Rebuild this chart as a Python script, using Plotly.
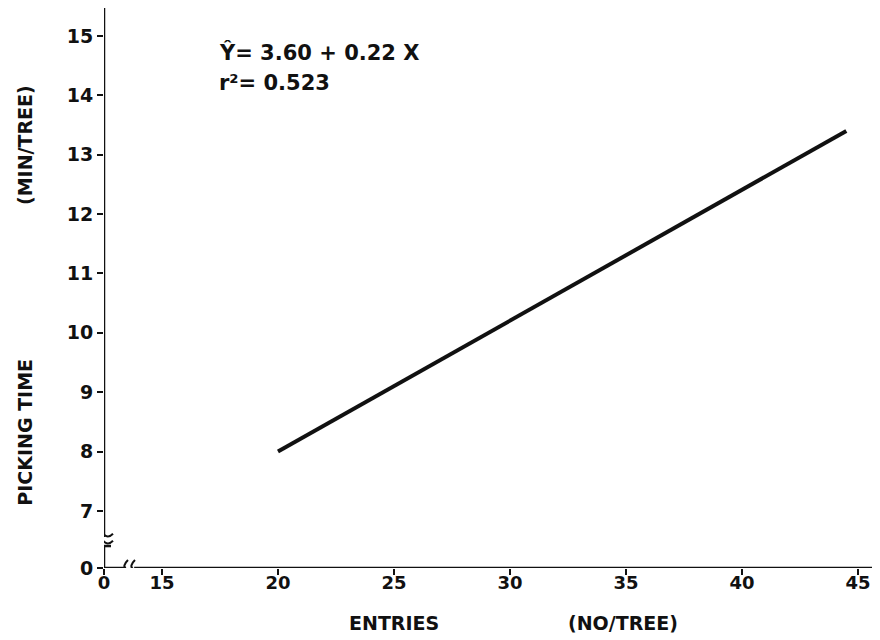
import plotly.graph_objects as go

# ---- data ----
entries = [20, 44.5]            # x (no/tree)
picking_time = [8.0, 13.4]      # y (min/tree)

x_tick_vals = [12.5, 15, 20, 25, 30, 35, 40, 45]
x_tick_text = ["0", "15", "20", "25", "30", "35", "40", "45"]
y_tick_vals = [6.04, 7, 8, 9, 10, 11, 12, 13, 14, 15]
y_tick_text = ["0", "7", "8", "9", "10", "11", "12", "13", "14", "15"]

X_MIN, X_MAX = 12.5, 45.65
Y_MIN, Y_MAX = 6.04, 15.47
Y_BREAK, X_BREAK = 6.5, 13.62

FONT = "DejaVu Sans"
BLACK = "#111111"

fig = go.Figure()
fig.add_trace(go.Scatter(x=entries, y=picking_time, mode="lines",
                         line=dict(color=BLACK, width=4), showlegend=False,
                         hoverinfo="skip"))

shapes = []
lw = 2.5
# y axis (upper part above break)
shapes.append(dict(type="line", xref="x", yref="y", x0=X_MIN, x1=X_MIN, y0=6.56, y1=Y_MAX,
                   line=dict(color=BLACK, width=lw)))
# y axis lower stub with cap
shapes.append(dict(type="line", xref="x", yref="y", x0=X_MIN, x1=X_MIN, y0=Y_MIN, y1=6.41,
                   line=dict(color=BLACK, width=lw)))
shapes.append(dict(type="line", xref="x", yref="y", xsizemode="pixel", xanchor=X_MIN,
                   x0=-7, x1=7, y0=6.41, y1=6.41, line=dict(color=BLACK, width=lw)))
# y break wavy marks (pixel-sized)
for dy in (6, -1):
    shapes.append(dict(type="path", xref="x", yref="y", xsizemode="pixel", ysizemode="pixel",
                       xanchor=X_MIN, yanchor=Y_BREAK,
                       path=f"M -9,{dy-1} Q -4,{dy+4} 0,{dy} Q 4,{dy-4} 9,{dy+1}",
                       line=dict(color=BLACK, width=2)))
# x axis left stub
shapes.append(dict(type="line", xref="x", yref="y", x0=X_MIN, x1=13.45, y0=Y_MIN, y1=Y_MIN,
                   line=dict(color=BLACK, width=lw)))
# x axis main
shapes.append(dict(type="line", xref="x", yref="y", x0=13.8, x1=X_MAX, y0=Y_MIN, y1=Y_MIN,
                   line=dict(color=BLACK, width=lw)))
# x break marks
for dx in (-4, 3):
    shapes.append(dict(type="path", xref="x", yref="y", xsizemode="pixel", ysizemode="pixel",
                       xanchor=X_BREAK, yanchor=Y_MIN,
                       path=f"M {dx+2},8 Q {dx-4},2 {dx},-1 Q {dx+3},-4 {dx-1},-8",
                       line=dict(color=BLACK, width=2)))

def ann(text, x, y, angle=0, xanchor="center", size=19):
    return dict(text=text, xref="paper", yref="paper", x=x, y=y, textangle=angle,
                xanchor=xanchor, yanchor="middle", showarrow=False,
                font=dict(family=FONT, size=size, color=BLACK, weight="bold"))

annotations = [
    ann("PICKING TIME", -0.103, 0.243, angle=-90),
    ann("(MIN/TREE)", -0.103, 0.755, angle=-90),
    ann("ENTRIES", 0.377, -0.098),
    ann("(NO/TREE)", 0.675, -0.098),
    ann("Ŷ= 3.60 + 0.22 X", 0.147, 0.92, xanchor="left", size=21),
    ann("r²= 0.523", 0.147, 0.866, xanchor="left", size=21),
]

# page body has an 8px margin, so the figure is sized to fit the 880x640 window
fig.update_layout(
    width=872, height=632,
    margin=dict(l=96, r=7, t=0, b=72, autoexpand=False),
    paper_bgcolor="white", plot_bgcolor="white",
    shapes=shapes, annotations=annotations,
    font=dict(family=FONT, color=BLACK),
)
fig.update_xaxes(range=[X_MIN, X_MAX], tickvals=x_tick_vals, ticktext=x_tick_text,
                 showgrid=False, zeroline=False, showline=False, automargin=False,
                 ticks="outside", ticklen=6, tickwidth=2, tickcolor=BLACK,
                 ticklabelstandoff=-8,
                 tickfont=dict(family=FONT, size=18, color=BLACK, weight="bold"))
fig.update_yaxes(range=[Y_MIN, Y_MAX], tickvals=y_tick_vals, ticktext=y_tick_text,
                 showgrid=False, zeroline=False, showline=False, automargin=False,
                 ticks="outside", ticklen=6, tickwidth=2, tickcolor=BLACK,
                 tickfont=dict(family=FONT, size=19, color=BLACK, weight="bold"))

fig.write_html("out.html")
